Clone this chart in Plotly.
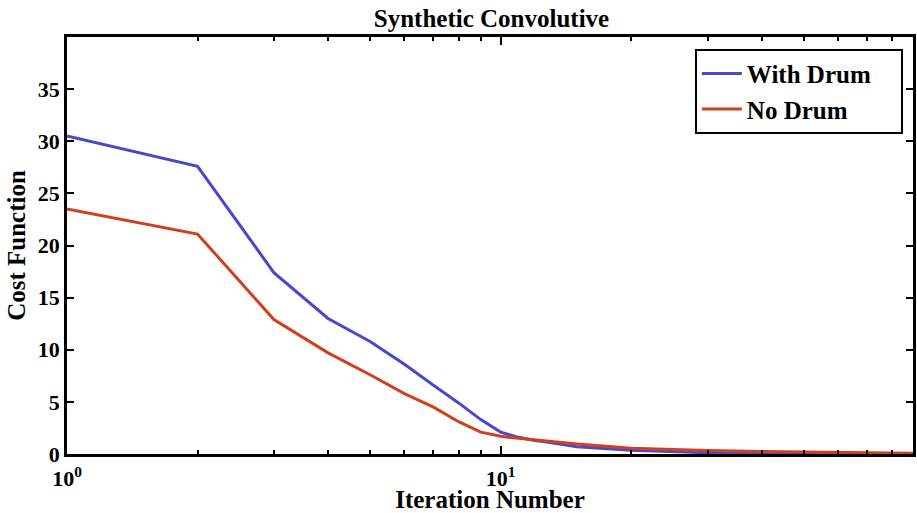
import plotly.graph_objects as go

# Cost function per iteration for the two reconstruction variants
iterations = [1, 2, 3, 4, 5, 6, 7, 8, 9, 10, 11, 12, 13, 15, 20, 25, 30, 40, 50, 60, 70, 80, 90]
with_drum = [30.5, 27.6, 17.4, 13.0, 10.8, 8.6, 6.6, 4.9, 3.3, 2.1, 1.6, 1.3, 1.1, 0.7, 0.35,
             0.2, 0.12, 0.07, 0.05, 0.04, 0.03, 0.03, 0.02]
no_drum = [23.5, 21.1, 12.9, 9.7, 7.6, 5.8, 4.5, 3.1, 2.1, 1.7, 1.5, 1.35, 1.2, 0.95, 0.55,
           0.42, 0.33, 0.23, 0.17, 0.13, 0.1, 0.08, 0.07]

y_ticks = [0, 5, 10, 15, 20, 25, 30, 35]
x_major = [1, 10]
x_major_text = ["10<sup>0</sup>", "10<sup>1</sup>"]
x_minor = [2, 3, 4, 5, 6, 7, 8, 9, 20, 30, 40, 50, 60, 70, 80, 90]

FONT = "Liberation Serif"
PAD = "\u00a0" * 4  # extra room on the right side of the legend box

fig = go.Figure()
fig.add_trace(go.Scatter(x=iterations, y=with_drum, mode="lines", name="<b>With Drum</b>" + PAD,
                         line=dict(color="#4848cc", width=3)))
fig.add_trace(go.Scatter(x=iterations, y=no_drum, mode="lines", name="<b>No Drum</b>",
                         line=dict(color="#d0401c", width=3)))

fig.update_layout(
    width=917, height=513,
    margin=dict(l=67, r=1, t=37, b=59),
    paper_bgcolor="white", plot_bgcolor="white",
    font=dict(family=FONT, size=20, color="black"),
    title=dict(text="<b>Synthetic Convolutive</b>", x=0.536, xanchor="center",
               y=0.965, yanchor="middle", font=dict(family=FONT, size=25, color="black")),
    showlegend=True,
    legend=dict(x=0.988, xanchor="right", y=0.972, yanchor="top",
                bordercolor="black", borderwidth=2, bgcolor="white",
                font=dict(family=FONT, size=25, color="black"),
                itemwidth=40, tracegroupgap=0),
    xaxis=dict(
        type="log", range=[0, 1.951],
        tickmode="array", tickvals=x_major,
        ticktext=["<b>" + t + "</b>" for t in x_major_text],
        ticks="inside", ticklen=8, tickwidth=2, tickcolor="black",
        minor=dict(ticks="inside", ticklen=4, tickwidth=2, tickcolor="black", tickvals=x_minor),
        showline=True, linecolor="black", linewidth=2.5, mirror="allticks",
        showgrid=False, zeroline=False, ticklabelstandoff=3,
        tickfont=dict(family=FONT, size=22, color="black"),
        title=dict(text="<b>Iteration Number</b>", standoff=0,
                   font=dict(family=FONT, size=25, color="black")),
    ),
    yaxis=dict(
        range=[0, 40],
        tickmode="array", tickvals=y_ticks,
        ticktext=["<b>%d</b>" % v for v in y_ticks],
        ticks="inside", ticklen=7, tickwidth=2, tickcolor="black",
        showline=True, linecolor="black", linewidth=2.5, mirror="allticks",
        showgrid=False, zeroline=False,
        tickfont=dict(family=FONT, size=22, color="black"),
        title=dict(text="<b>Cost Function</b>", standoff=6,
                   font=dict(family=FONT, size=25, color="black")),
    ),
)

fig.write_html("out.html")
